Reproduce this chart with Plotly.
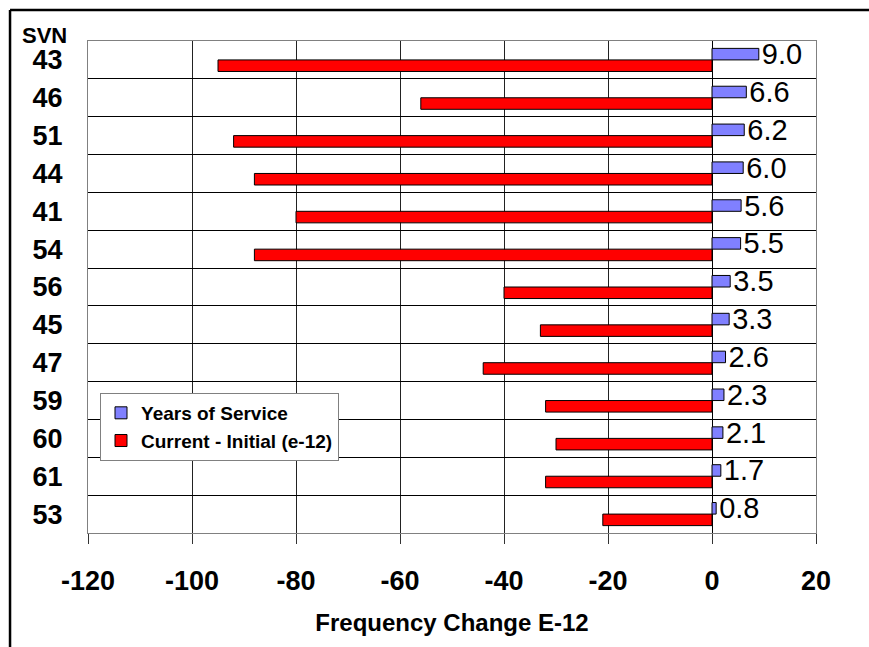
import plotly.graph_objects as go

svn = ["43", "46", "51", "44", "41", "54", "56", "45", "47", "59", "60", "61", "53"]
years_of_service = [9.0, 6.6, 6.2, 6.0, 5.6, 5.5, 3.5, 3.3, 2.6, 2.3, 2.1, 1.7, 0.8]
freq_change = [-95, -56, -92, -88, -80, -88, -40, -33, -44, -32, -30, -32, -21]
x_ticks = [-120, -100, -80, -60, -40, -20, 0, 20]
x_tick_labels = [str(v) for v in x_ticks]

FONT = "Arial, Liberation Sans, sans-serif"

fig = go.Figure()
fig.add_trace(go.Bar(
    y=svn, x=years_of_service, orientation="h", name="Years of Service",
    marker=dict(color="#8080FF", line=dict(color="black", width=1)),
    text=[f"{v:.1f}" for v in years_of_service], textposition="outside",
    textfont=dict(family=FONT, size=29, color="black"),
    constraintext="none", cliponaxis=False,
))
fig.add_trace(go.Bar(
    y=svn, x=freq_change, orientation="h", name="Current - Initial (e-12)",
    marker=dict(color="#FF0000", line=dict(color="black", width=1)),
))

frame = dict(color="black", width=2.5)

fig.update_layout(
    width=869, height=647,
    margin=dict(l=88, r=53, t=41, b=114),
    paper_bgcolor="white", plot_bgcolor="white",
    barmode="group", bargap=0.39, bargroupgap=0,
    font=dict(family=FONT, color="black"),
    showlegend=True,
    legend=dict(
        x=0.0165, y=0.2846, xanchor="left", yanchor="top",
        bgcolor="white", bordercolor="#808080", borderwidth=1,
        font=dict(family=FONT, size=19, weight="bold"),
        traceorder="normal", itemwidth=30, tracegroupgap=0,
    ),
    xaxis=dict(
        range=[-120, 20], tickmode="array", tickvals=x_ticks, ticktext=x_tick_labels,
        tickfont=dict(family=FONT, size=27, weight="bold"),
        ticks="outside", ticklen=10, tickcolor="#333",
        ticklabelstandoff=14,
        showgrid=True, gridcolor="#222", gridwidth=1,
        zeroline=True, zerolinecolor="black", zerolinewidth=1,
        showline=True, linecolor="#808080", mirror=True,
        title=dict(text="Frequency Change E-12", standoff=18,
                   font=dict(family=FONT, size=24, weight="bold")),
    ),
    yaxis=dict(
        type="category", categoryorder="array", categoryarray=svn,
        autorange="reversed", tickson="boundaries",
        ticks="", ticklabelstandoff=19,
        tickfont=dict(family=FONT, size=27, weight="bold"),
        showgrid=True, gridcolor="black", gridwidth=1,
        showline=True, linecolor="#808080", mirror=True,
    ),
    annotations=[dict(
        text="SVN", xref="paper", yref="paper",
        x=-0.0604, y=1.0102, xanchor="center", yanchor="middle",
        showarrow=False, font=dict(family=FONT, size=22, weight="bold"),
    )],
    shapes=[
        dict(type="line", xref="paper", yref="paper",
             x0=-0.1071, x1=-0.1071, y0=-0.232, y1=1.063, line=frame, layer="above"),
        dict(type="line", xref="paper", yref="paper",
             x0=-0.1071, x1=1.0728, y0=1.063, y1=1.063, line=frame, layer="above"),
    ],
)

fig.write_html("out.html", config={"displayModeBar": False},
               post_script="document.body.style.margin='0';")
